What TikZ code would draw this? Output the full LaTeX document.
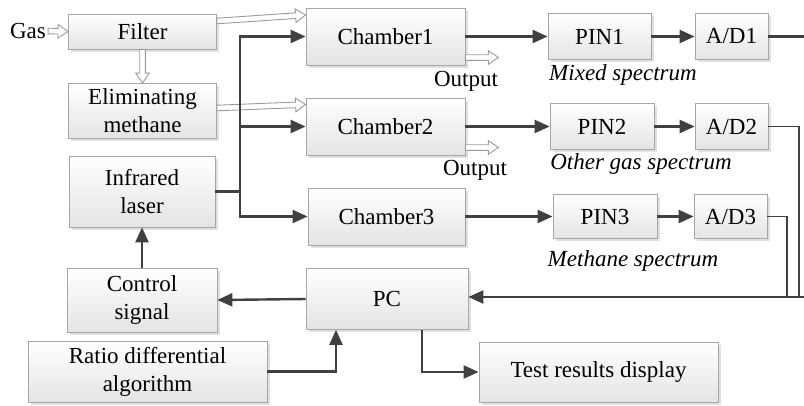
\documentclass[tikz,border=0pt]{standalone}
\usepackage{fontspec}
\setmainfont{Liberation Serif}
\usetikzlibrary{arrows.meta,calc,shadows}
\definecolor{lineclr}{HTML}{404040}
\definecolor{boxborder}{HTML}{A6A6A6}
\definecolor{boxbottom}{HTML}{E4E4E4}
\definecolor{hollowclr}{HTML}{9A9A9A}
\newcommand\hollowarrow[2]{%
  \path[hollow] let \p1=(#1), \p2=(#2),
    \n1={veclen(\x2-\x1,\y2-\y1)}, \n2={atan2(\y2-\y1,\x2-\x1)} in
    ($(\p1)+({\n2+90}:2.8pt)$) -- ++({\n2}:{(\n1-10)*1pt}) -- ++({\n2+90}:4pt) -- (\p2)
    -- ($(\p2)+({\n2+180}:10pt)+({\n2-90}:6.8pt)$) -- ++({\n2+90}:4pt)
    -- ($(\p1)+({\n2-90}:2.8pt)$) -- cycle;}
\begin{document}
\begin{tikzpicture}[x=1pt,y=-1pt,
  box/.style={draw=boxborder, line width=0.8pt, top color=white, bottom color=boxbottom,
    drop shadow={shadow xshift=2.5pt, shadow yshift=-2.5pt, fill=black, opacity=0.12},
    align=center, inner sep=0pt, font=\fontsize{23}{28}\selectfont},
  lbl/.style={inner sep=0pt, font=\fontsize{23}{28}\selectfont},
  ilbl/.style={inner sep=0pt, font=\fontsize{23}{28}\selectfont\itshape},
  arr/.style={draw=lineclr, line width=2.4pt, -{Triangle[length=15pt,width=13pt]}},
  plain/.style={draw=lineclr, line width=2.4pt},
  thin/.style={draw=lineclr, line width=1.6pt},
  hollow/.style={draw=hollowclr, line width=0.9pt, fill=white, line join=miter}]
\useasboundingbox (0,0) rectangle (804,405);

% boxes
\node[box, minimum width=148pt, minimum height=35pt] (filter) at (142.5,31.5) {Filter};
\node[box, minimum width=148pt, minimum height=55pt] (elim) at (142.5,111) {Eliminating\\methane};
\node[box, minimum width=146pt, minimum height=71pt] (laser) at (142,191.5) {Infrared\\laser};
\node[box, minimum width=150pt, minimum height=64pt] (control) at (142,300) {Control\\signal};
\node[box, minimum width=239pt, minimum height=61pt] (ratio) at (147.5,371.5) {Ratio differential\\algorithm};
\node[box, minimum width=162pt, minimum height=61pt] (pc) at (387,299) {PC};
\node[box, minimum width=239pt, minimum height=60pt] (test) at (598.5,372) {Test results display};
\node[box, minimum width=159pt, minimum height=57pt] (ch1) at (385.5,36.5) {Chamber1};
\node[box, minimum width=159pt, minimum height=57pt] (ch2) at (385.5,126.5) {Chamber2};
\node[box, minimum width=157pt, minimum height=57pt] (ch3) at (386.5,216.5) {Chamber3};
\node[box, minimum width=103pt, minimum height=46pt] (pin1) at (599.5,36.5) {PIN1};
\node[box, minimum width=73pt, minimum height=46pt] (ad1) at (731.5,36.5) {A/D1};
\node[box, minimum width=104pt, minimum height=46pt] (pin2) at (602,126.5) {PIN2};
\node[box, minimum width=73pt, minimum height=46pt] (ad2) at (731.5,126.5) {A/D2};
\node[box, minimum width=104pt, minimum height=44pt] (pin3) at (605,216.5) {PIN3};
\node[box, minimum width=73pt, minimum height=44pt] (ad3) at (730.5,216.5) {A/D3};

% labels
\node[lbl] (gas) at (28,31) {Gas};
\node[lbl] (out1) at (466,81) {Output};
\node[lbl] (out2) at (475,170) {Output};
\node[ilbl] (mix) at (623,75) {Mixed spectrum};
\node[ilbl] (other) at (641,164) {Other gas spectrum};
\node[ilbl] (meth) at (633,261) {Methane spectrum};

% hollow arrows (gas flow)
\hollowarrow{$(gas.east)+(2,0)$}{filter.west}
\hollowarrow{filter.south}{elim.north}
\hollowarrow{$(filter.east)+(0,-10.5)$}{$(ch1.west)+(0,-21.5)$}
\hollowarrow{$(elim.east)+(0,-3)$}{$(ch2.west)+(0,-22)$}
\hollowarrow{$(ch1.east)+(0,21)$}{$(ch1.east)+(33,21)$}
\hollowarrow{$(ch2.east)+(0,21)$}{$(ch2.east)+(33,21)$}

% laser distribution
\coordinate (jx) at (240,191.5);
\draw[plain] (laser.east) -- (jx);
\draw[arr] (jx) |- (ch1.west);
\draw[arr] (jx) |- (ch3.west);
\draw[arr] (jx |- ch2.west) -- (ch2.west);

% chambers to detectors
\draw[arr] (ch1.east) -- (pin1.west);
\draw[arr] (ch2.east) -- (pin2.west);
\draw[arr] (ch3.east) -- (pin3.west);
\draw[arr] (pin1.east) -- (ad1.west);
\draw[arr] (pin2.east) -- (ad2.west);
\draw[arr] (pin3.east) -- (ad3.west);

% return to PC
\coordinate (r1) at (806,297);
\coordinate (r2) at (799,297);
\coordinate (r3) at (787,297);
\draw[plain] (ad1.east) -| (r1);
\draw[thin] (ad2.east) -| (r2);
\draw[thin] (ad3.east) -| (r3);
\draw[arr] (r1) -- (pc.east |- r1);

% PC connections
\draw[arr] (pc.west) -- (control.east);
\draw[arr] (control.north) -- (laser.south);
\coordinate (pcb) at ([xshift=-51pt]pc.south);
\coordinate (pct) at ([xshift=35pt]pc.south);
\draw[arr] (ratio.east) -| (pcb);
\draw[arr] (pct) |- (test.west);
\end{tikzpicture}
\end{document}
